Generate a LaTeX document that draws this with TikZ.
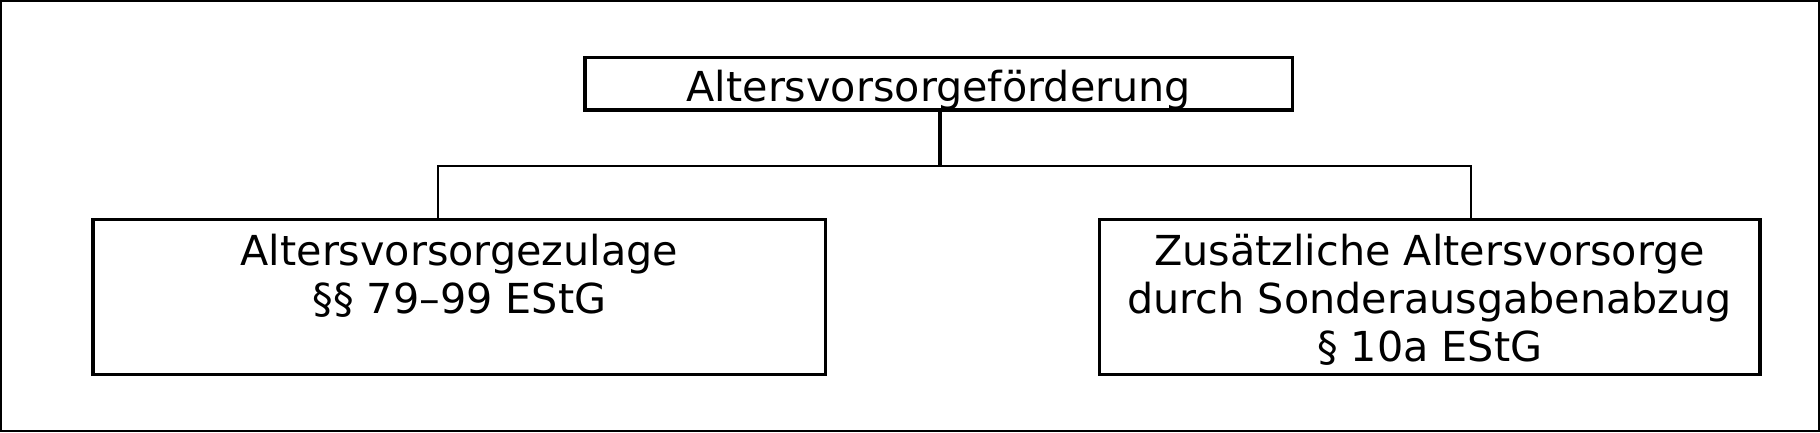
\documentclass[tikz,border=0pt]{standalone}
\usepackage{fontspec}
\setmainfont{DejaVu Sans}
\begin{document}
\begin{tikzpicture}[x=1pt,y=-1pt,
  box/.style={draw=black,line width=3.3pt,rectangle,inner sep=0pt,fill=none},
  txt/.style={inner sep=0pt,align=center,font=\fontsize{41.3}{48}\selectfont},
  thin/.style={line width=1.6pt},
  frame/.style={line width=2pt}]
\useasboundingbox (0,0) rectangle (1820,432);
\draw[frame] (1,1) rectangle (1819,431);
% boxes
\node[box,minimum width=707.8pt,minimum height=52.7pt] (top) at (938.9,83.65) {};
\node[box,minimum width=732.8pt,minimum height=155pt] (left) at (459.4,296.7) {};
\node[box,minimum width=660.7pt,minimum height=155pt] (right) at (1429.65,296.7) {};
% texts
\node[txt,anchor=base] (toptext) at (938.9,101.5) {Altersvorsorgeförderung};
\node[txt,anchor=north] (lefttext) at (459.4,231.4) {\strut Altersvorsorgezulage\\\strut §§ 79–99 EStG};
\node[txt,anchor=north] (righttext) at (1429.65,231.4) {\strut Zusätzliche Altersvorsorge\\\strut durch Sonderausgabenabzug\\\strut § 10a EStG};
% connectors
\coordinate (jc) at (940,165.8);
\coordinate (jl) at (437.8,165.8);
\coordinate (jr) at (1470.7,165.8);
\draw[line width=3.3pt] (jc |- top.south) -- (jc);
\draw[thin,line cap=rect] (jl) -- (jr);
\draw[thin] (jl) -- (jl |- left.north);
\draw[thin] (jr) -- (jr |- right.north);
\end{tikzpicture}
\end{document}
